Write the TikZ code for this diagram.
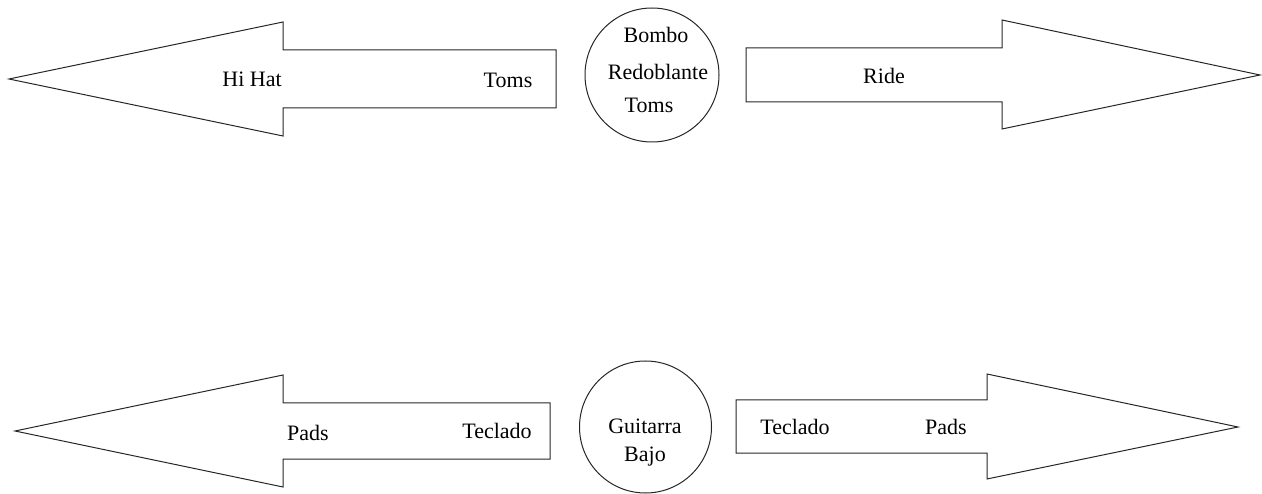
\documentclass[tikz,border=0pt]{standalone}
\usepackage{fontspec}
\setmainfont{Liberation Serif}
\newfontfamily\timesfont{Liberation Serif}
\begin{document}
\begin{tikzpicture}[x=1pt,y=-1pt,
  shapeline/.style={draw=black!85, line width=1pt, line join=miter},
  lbl/.style={inner sep=0pt, anchor=base, font=\timesfont\fontsize{22}{26}\selectfont}]
\useasboundingbox (0,0) rectangle (1262,494);
% top row
\draw[shapeline] (9,79) -- (283,22) -- (283,50) -- (556,50) -- (556,108) -- (283,108) -- (283,136) -- cycle;
\draw[shapeline] (652,75) circle[radius=67];
\draw[shapeline] (746,48) -- (1002,48) -- (1002,20) -- (1260,75) -- (1002,129) -- (1002,102) -- (746,102) -- cycle;
% bottom row
\draw[shapeline] (15,431) -- (283,375) -- (283,403) -- (550,403) -- (550,459) -- (283,459) -- (283,487) -- cycle;
\draw[shapeline] (645.5,427) circle[radius=66];
\draw[shapeline] (736,400) -- (987,400) -- (987,374) -- (1238,427) -- (987,479) -- (987,453) -- (736,453) -- cycle;
% labels
\node[lbl] (hihat) at (252,86.5) {Hi Hat};
\node[lbl] (toms1) at (508,88) {Toms};
\node[lbl] (bombo) at (656,42.5) {Bombo};
\node[lbl] (redob) at (658,79.5) {Redoblante};
\node[lbl] (toms2) at (649,112.5) {Toms};
\node[lbl] (ride) at (884,83.5) {Ride};
\node[lbl] (pads1) at (308,440) {Pads};
\node[lbl] (tecl1) at (497,438.5) {Teclado};
\node[lbl] (guit) at (645,434) {Guitarra};
\node[lbl] (bajo) at (645,461.5) {Bajo};
\node[lbl] (tecl2) at (795,434.5) {Teclado};
\node[lbl] (pads2) at (946,434.5) {Pads};
\end{tikzpicture}
\end{document}
